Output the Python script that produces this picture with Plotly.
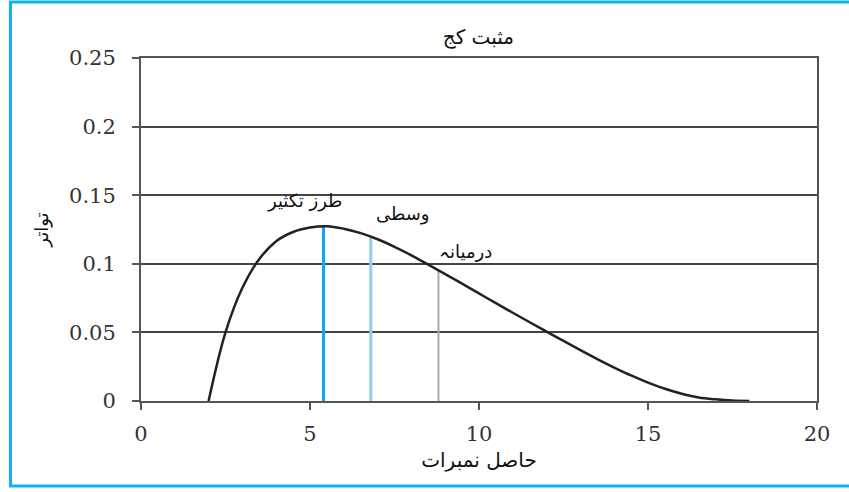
import plotly.graph_objects as go

# curve (every half mark)
score = [2.0, 2.5, 3.0, 3.5, 4.0, 4.5, 5.0, 5.5, 6.0, 6.5, 7.0, 7.5, 8.0, 8.5,
         9.0, 9.5, 10.0, 10.5, 11.0, 11.5, 12.0, 12.5, 13.0, 13.5, 14.0, 14.5,
         15.0, 15.5, 16.0, 16.5, 17.0, 17.5, 18.0]
freq = [0.0, 0.05, 0.0825, 0.1035, 0.1165, 0.1232, 0.1264, 0.1274, 0.1256, 0.1224,
        0.1179, 0.1124, 0.1062, 0.0994, 0.0925, 0.0855, 0.0784, 0.0713, 0.0643,
        0.0574, 0.0506, 0.0438, 0.0371, 0.0306, 0.0244, 0.0186, 0.0134, 0.0089,
        0.0053, 0.0026, 0.0012, 0.0003, 0.0]

# mode, mean, median markers
marker_x = [5.4, 6.8, 8.8]
marker_y = [0.1275, 0.1197, 0.0953]
marker_colors = ['#12a8e6', '#8ccfee', '#a9a9a9']
marker_widths = [3, 3, 2]

labels = ['طرز تکثیر', 'وسطی', 'درمیانہ']
label_x = [4.85, 7.75, 9.6]
label_y = [0.146, 0.136, 0.109]

urdu = 'DejaVu Sans'
num_font = dict(family='DejaVu Serif', size=21, color='#333')

fig = go.Figure()

for mx, my, c, w in zip(marker_x, marker_y, marker_colors, marker_widths):
    fig.add_trace(go.Scatter(
        x=[mx, mx], y=[0, my], mode='lines',
        line=dict(color=c, width=w), showlegend=False, hoverinfo='skip'
    ))

# skewed curve
fig.add_trace(go.Scatter(
    x=score, y=freq, mode='lines',
    line=dict(color='#222', width=2.5, shape='spline', smoothing=1),
    showlegend=False
))

for t, lx, ly in zip(labels, label_x, label_y):
    fig.add_annotation(x=lx, y=ly, text=t, showarrow=False,
                       font=dict(family=urdu, size=18, color='#111'))

fig.update_layout(
    width=849, height=492,
    margin=dict(l=141, r=32, t=58, b=91),
    paper_bgcolor='white', plot_bgcolor='white',
    title=dict(text='مثبت کج', x=0.5635, xanchor='center', y=0.925, yanchor='middle',
               font=dict(family=urdu, size=20, color='#111')),
    xaxis=dict(
        range=[0, 20], tickvals=[0, 5, 10, 15, 20], showgrid=False, zeroline=False,
        showline=True, linecolor='#555', linewidth=2, mirror=True,
        ticks='outside', ticklen=7, tickcolor='#555', tickwidth=1.5,
        tickfont=num_font, ticklabelstandoff=6,
        title=dict(text='حاصل نمبرات', font=dict(family=urdu, size=20, color='#111'),
                   standoff=8)
    ),
    yaxis=dict(
        range=[0, 0.25], tickvals=[0, 0.05, 0.1, 0.15, 0.2, 0.25],
        ticktext=['0', '0.05', '0.1', '0.15', '0.2', '0.25'],
        showgrid=True, gridcolor='#444', gridwidth=2, zeroline=False,
        showline=True, linecolor='#555', linewidth=2, mirror=True,
        ticks='outside', ticklen=7, tickcolor='#555', tickwidth=1.5,
        tickfont=num_font, ticklabelstandoff=12,
        title=dict(text='تواتر', font=dict(family=urdu, size=18, color='#111'),
                   standoff=16)
    ),
)

# light blue frame round the picture (right edge runs off the page)
fig.add_shape(type='rect', xref='paper', yref='paper',
              x0=(10.5 - 141) / 676, x1=(853 - 141) / 676,
              y0=(401 - 486) / 343, y1=(401 - 2) / 343,
              line=dict(color='#10b2ec', width=3), layer='below')

# drop the page's default body margin so the figure sits at the window corner
fig.write_html('out.html', config={'displayModeBar': False},
               post_script="document.body.style.margin='0';")
